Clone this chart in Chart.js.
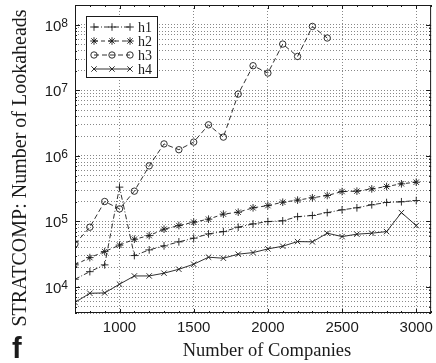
<!DOCTYPE html>
<html>
<head>
<meta charset="utf-8">
<script src="https://cdn.jsdelivr.net/npm/chart.js@4/dist/chart.umd.min.js"></script>
<style>
body { margin: 0; background: #fff; }
canvas { display: block; }
</style>
</head>
<body>
<canvas id="chart" width="436" height="363"></canvas>
<script>
const companies = [700, 800, 900, 1000, 1100, 1200, 1300, 1400, 1500, 1600, 1700, 1800,
    1900, 2000, 2100, 2200, 2300, 2400, 2500, 2600, 2700, 2800, 2900, 3000];

const h1 = [13100, 17100, 21700, 333000, 30100, 36700, 42300, 48700, 55400, 64400, 69800, 81500,
    91600, 99300, 102000, 118000, 123000, 136000, 150000, 161000, 179000, 194000, 199000, 208000];
const h2 = [21700, 28000, 34600, 43400, 53400, 60700, 76000, 86300, 97300, 108000, 129000, 138000,
    161000, 174000, 196000, 211000, 229000, 248000, 285000, 289000, 313000, 340000, 374000, 396000];
const h3 = [45300, 81500, 201000, 155000, 289000, 703000, 1520000, 1240000, 1620000, 2970000, 1930000, 8750000,
    23700000, 18300000, 50700000, 32800000, 94200000, 62700000];
const h4 = [5800, 8000, 8100, 11000, 14700, 14700, 16200, 18600, 22200, 28400, 27400, 31600,
    33400, 38000, 41800, 49200, 48700, 66000, 58600, 63800, 66000, 69800, 136000, 86300];

const seriesNames = ["h1", "h2", "h3", "h4"];
const xTicks = [1000, 1500, 2000, 2500, 3000];
const yTickLabels = [1e4, 1e5, 1e6, 1e7, 1e8];
const xTitle = "Number of Companies";
const yTitle = "STRATCOMP: Number of Lookaheads";

const ink = "#1a1a1a";

function points(values){
    return values.map((v, i) => ({ x: companies[i], y: v }));
}

function makeSet(label, values, style, dash){
    return {
        label: label,
        data: points(values),
        borderColor: ink,
        backgroundColor: "transparent",
        borderWidth: 0.9,
        borderDash: dash,
        pointStyle: style,
        pointRadius: style === "circle" ? 3.2 : 3.8,
        pointBorderColor: ink,
        pointBackgroundColor: "transparent",
        pointBorderWidth: 0.9,
        tension: 0
    };
}

// frame with inner tick marks, y labels, titles, boxed legend and the panel letter
const framePlugin = {
    id: "frame",
    afterDraw(chart){
        const ctx = chart.ctx;
        const a = chart.chartArea;
        const xs = chart.scales.x;
        const ys = chart.scales.y;
        ctx.save();
        ctx.strokeStyle = ink;
        ctx.lineWidth = 1;
        ctx.setLineDash([]);
        ctx.strokeRect(a.left + 0.5, a.top + 0.5, a.right - a.left - 1, a.bottom - a.top - 1);

        ctx.beginPath();
        for(let v = 700; v <= 3100; v += 100){
            const px = Math.round(xs.getPixelForValue(v)) + 0.5;
            const len = v % 500 === 0 ? 4 : 2;
            ctx.moveTo(px, a.bottom); ctx.lineTo(px, a.bottom - len);
            ctx.moveTo(px, a.top); ctx.lineTo(px, a.top + len);
        }
        ys.ticks.forEach(t => {
            const py = Math.round(ys.getPixelForValue(t.value)) + 0.5;
            const len = yTickLabels.includes(t.value) ? 5 : 2;
            ctx.moveTo(a.left, py); ctx.lineTo(a.left + len, py);
            ctx.moveTo(a.right, py); ctx.lineTo(a.right - len, py);
        });
        ctx.stroke();

        // y tick labels as 10 with raised exponent
        ctx.fillStyle = ink;
        ctx.textBaseline = "alphabetic";
        yTickLabels.forEach(v => {
            const py = ys.getPixelForValue(v);
            const e = String(Math.round(Math.log10(v)));
            ctx.font = "12px 'Liberation Sans'";
            const ew = ctx.measureText(e).width;
            ctx.textAlign = "left";
            ctx.fillText(e, a.left - 7 - ew, py + 2);
            ctx.font = "15px 'Liberation Sans'";
            ctx.textAlign = "right";
            ctx.fillText("10", a.left - 7 - ew, py + 6);
        });

        // axis titles
        ctx.font = "18.5px 'Liberation Serif'";
        ctx.textAlign = "center";
        ctx.fillText(xTitle, 267, 356);
        ctx.save();
        ctx.translate(26, 168);
        ctx.rotate(-Math.PI / 2);
        ctx.font = "20px 'Liberation Serif'";
        ctx.fillText(yTitle, 0, 0);
        ctx.restore();

        // legend
        const bx = a.left + 11, by = a.top + 11, bw = 71, bh = 61;
        ctx.fillStyle = "#fff";
        ctx.fillRect(bx, by, bw, bh);
        ctx.strokeStyle = ink;
        ctx.strokeRect(bx + 0.5, by + 0.5, bw, bh);
        ctx.font = "14px 'Liberation Serif'";
        ctx.textAlign = "left";
        ctx.textBaseline = "middle";
        chart.data.datasets.forEach((ds, i) => {
            const y = by + 11 + i * 14;
            const x0 = bx + 8, x1 = bx + 44;
            ctx.strokeStyle = ink;
            ctx.lineWidth = 0.9;
            ctx.setLineDash(ds.borderDash || []);
            ctx.beginPath();
            ctx.moveTo(x0, y); ctx.lineTo(x1, y);
            ctx.stroke();
            ctx.setLineDash([]);
            ctx.fillStyle = "rgba(0,0,0,0)";
            [x0, (x0 + x1) / 2, x1].forEach(px => {
                Chart.helpers.drawPoint(ctx, {
                    pointStyle: ds.pointStyle, radius: ds.pointRadius, rotation: 0, borderWidth: 0.9
                }, px, y);
            });
            ctx.fillStyle = ink;
            ctx.fillText(ds.label, x1 + 8, y + 1);
        });

        ctx.font = "bold 29px 'Liberation Sans'";
        ctx.textBaseline = "alphabetic";
        ctx.fillText("f", 12, 358);
        ctx.restore();
    }
};

new Chart(document.getElementById("chart"), {
    type: "line",
    data: {
        datasets: [
            makeSet(seriesNames[0], h1, "cross", [5, 2, 1, 2]),
            makeSet(seriesNames[1], h2, "star", [4, 3]),
            makeSet(seriesNames[2], h3, "circle", [5, 3]),
            makeSet(seriesNames[3], h4, "crossRot", [])
        ]
    },
    options: {
        responsive: false,
        animation: false,
        layout: { padding: { left: 0, right: 4, top: 5, bottom: 0 } },
        plugins: {
            legend: { display: false },
            tooltip: { enabled: false }
        },
        scales: {
            x: {
                type: "linear",
                min: 700,
                max: 3100,
                afterBuildTicks: scale => { scale.ticks = xTicks.map(v => ({ value: v })); },
                afterFit: scale => {
                    scale.height = 50;
                    scale.paddingLeft = 0;
                    scale.paddingRight = 0;
                },
                grid: { color: "#555", lineWidth: 0.7, drawTicks: false },
                border: { display: false, dash: [1, 2] },
                ticks: {
                    color: ink,
                    padding: 6,
                    maxRotation: 0,
                    autoSkip: false,
                    font: { family: "'Liberation Sans'", size: 15 },
                    callback: value => String(value)
                }
            },
            y: {
                type: "logarithmic",
                min: 4000,
                max: 2e8,
                afterBuildTicks: scale => {
                    const ticks = [];
                    for(let e = 3; e <= 8; e++){
                        for(let m = 1; m <= 9; m++){
                            const v = m * Math.pow(10, e);
                            if(v >= scale.min && v <= scale.max) ticks.push({ value: v });
                        }
                    }
                    scale.ticks = ticks;
                },
                afterFit: scale => {
                    scale.width = 75;
                    scale.paddingTop = 0;
                    scale.paddingBottom = 0;
                },
                grid: { color: "#555", lineWidth: 0.7, drawTicks: false },
                border: { display: false, dash: [1, 2] },
                ticks: {
                    autoSkip: false,
                    callback: () => ""
                }
            }
        }
    },
    plugins: [framePlugin]
});
</script>
</body>
</html>
